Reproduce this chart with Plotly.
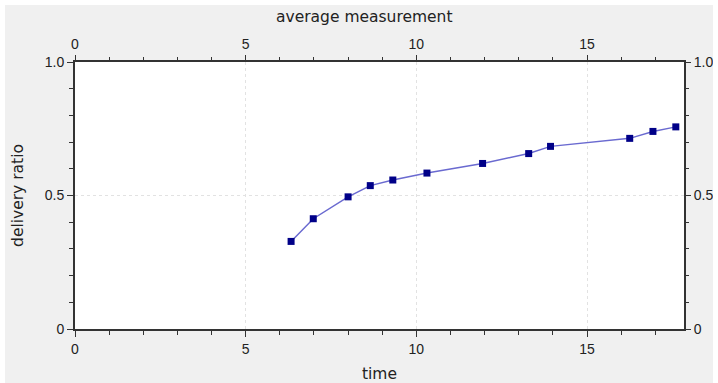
import plotly.graph_objects as go

time_vals = [6.33, 6.98, 8.0, 8.65, 9.31, 10.31, 11.94, 13.29, 13.93, 16.25, 16.93, 17.6]
delivery_ratio = [0.328, 0.413, 0.495, 0.537, 0.558, 0.584, 0.620, 0.657, 0.684, 0.714, 0.740, 0.757]
x_range = [0, 17.84]
y_tickvals = [0, 0.5, 1.0]
y_ticktext = ["0", "0.5", "1.0"]
x_tickvals = [0, 5, 10, 15]

font = dict(family="Liberation Sans, Arial, sans-serif", size=14, color="#222")
title_font = dict(family="DejaVu Sans, sans-serif", size=15.5, color="#222")

fig = go.Figure()
fig.add_trace(go.Scatter(
    x=time_vals, y=delivery_ratio, mode="lines+markers",
    line=dict(color="#6a6ad0", width=1.5),
    marker=dict(symbol="square", size=7, color="#000088"),
    showlegend=False, hoverinfo="skip"))
fig.add_trace(go.Scatter(x=time_vals, y=delivery_ratio, xaxis="x2", yaxis="y2",
                         mode="markers", marker=dict(opacity=0), showlegend=False,
                         hoverinfo="skip"))

common_x = dict(range=x_range, tickvals=x_tickvals, ticks="outside", ticklen=6,
                tickwidth=1, tickcolor="#333", tickfont=font, zeroline=False, automargin=False,
                minor=dict(dtick=1, tick0=0, ticks="outside", ticklen=4, tickcolor="#333", showgrid=False))
common_y = dict(range=[0, 1], tickvals=y_tickvals, ticktext=y_ticktext, ticks="outside",
                ticklen=6, tickwidth=1, tickcolor="#333", tickfont=font, zeroline=False, automargin=False,
                minor=dict(dtick=0.1, tick0=0, ticks="outside", ticklen=4, tickcolor="#333", showgrid=False))

fig.update_layout(
    width=708, height=378,
    margin=dict(l=70, r=29, t=57, b=54),
    paper_bgcolor="#f0f0f0", plot_bgcolor="#ffffff",
    font=font,
    xaxis=dict(**common_x, title=dict(text="time", font=title_font, standoff=13),
               showline=True, linewidth=2, linecolor="#333", mirror=True,
               showgrid=True, gridcolor="#e2e2e2", griddash="dot", gridwidth=1),
    yaxis=dict(**common_y, title=dict(text="delivery ratio", font=title_font, standoff=17),
               showline=True, linewidth=2, linecolor="#333", mirror=True,
               showgrid=True, gridcolor="#e2e2e2", griddash="dot", gridwidth=1),
    xaxis2=dict(**common_x, overlaying="x", side="top", anchor="y",
                showgrid=False, showline=False),
    yaxis2=dict(**common_y, overlaying="y", side="right", anchor="x",
                showgrid=False, showline=False),
    annotations=[dict(text="average measurement", xref="paper", yref="paper",
                      x=0.4757, y=1.1685, xanchor="center", yanchor="middle",
                      showarrow=False, font=title_font)],
)

fig.write_html("out.html",
               post_script="document.body.style.margin='5px 5px 0 5px';document.body.style.overflow='hidden';")
